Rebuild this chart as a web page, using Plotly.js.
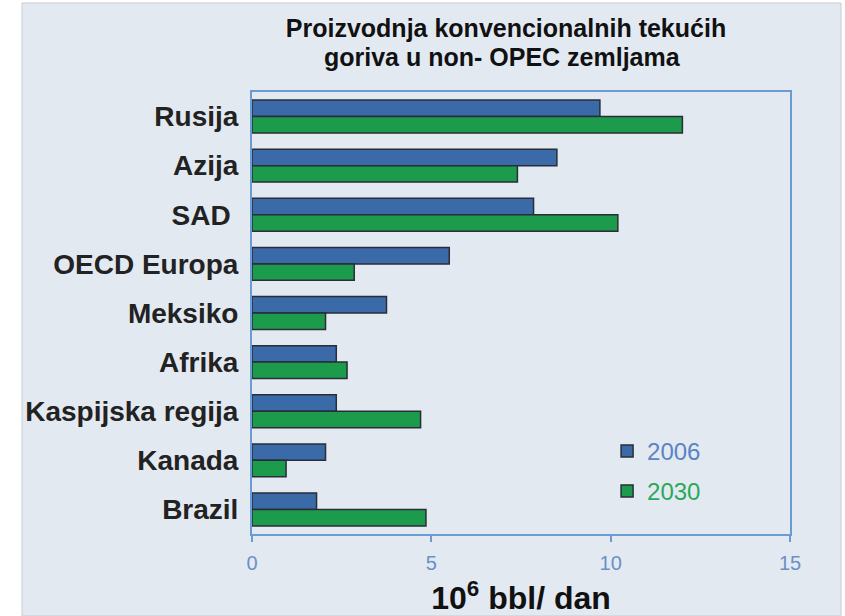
<!DOCTYPE html>
<html>
<head>
<meta charset="utf-8">
<script src="https://cdn.plot.ly/plotly-3.0.1.min.js"></script>
<style>
html, body { margin: 0; padding: 0; background: #ffffff; }
#chart { width: 845px; height: 616px; }
</style>
</head>
<body>
<div id="chart"></div>
<script>
const categories = ['Rusija', 'Azija', 'SAD', 'OECD Europa', 'Meksiko', 'Afrika', 'Kaspijska regija', 'Kanada', 'Brazil'];
const categoryLabels = ['Rusija', 'Azija', 'SAD\u00a0', 'OECD Europa', 'Meksiko', 'Afrika', 'Kaspijska regija', 'Kanada', 'Brazil'];
const values2006 = [9.7, 8.5, 7.85, 5.5, 3.75, 2.35, 2.35, 2.05, 1.8];
const values2030 = [12.0, 7.4, 10.2, 2.85, 2.05, 2.65, 4.7, 0.95, 4.85];
const seriesNames = ['2006', '2030'];
const xTicks = [0, 5, 10, 15];
const titleLines = ['Proizvodnja konvencionalnih tekućih', 'goriva u non- OPEC zemljama'];

const bgColor = '#e3e9f1';
const frameColor = '#6b9bd3';
const blue = '#3b6aa8';
const green = '#1c9b4c';
const outline = '#2a2d38';

const traces = [
  {
    type: 'bar', orientation: 'h', y: categories, x: values2006,
    name: '<span style="color:#5a84c4">' + seriesNames[0] + '</span>',
    legendgroup: 'a',
    marker: { color: blue, line: { color: outline, width: 1.5 } }
  },
  {
    type: 'bar', orientation: 'h', y: categories, x: values2030,
    name: '<span style="color:#2aa85a">' + seriesNames[1] + '</span>',
    legendgroup: 'b',
    marker: { color: green, line: { color: outline, width: 1.5 } }
  }
];

const layout = {
  width: 845, height: 616,
  margin: { l: 252, r: 55, t: 92, b: 82 },
  paper_bgcolor: '#ffffff',
  plot_bgcolor: bgColor,
  barmode: 'group',
  bargap: 0.33,
  bargroupgap: 0,
  font: { family: 'Liberation Sans, Arial, sans-serif', color: '#1a1a1a' },
  title: {
    text: '<b>' + titleLines[0] + '</b>',
    font: { size: 25, color: '#111111', family: 'Liberation Sans, Arial, sans-serif' },
    x: 0.5988, xanchor: 'center', xref: 'container',
    y: 0.954, yanchor: 'middle', yref: 'container'
  },
  annotations: [
    {
      text: '<b>' + titleLines[1] + '</b>',
      xref: 'paper', yref: 'paper', x: 0.4647, y: 1.0792,
      xanchor: 'center', yanchor: 'middle', showarrow: false,
      font: { size: 25, color: '#111111', family: 'Liberation Sans, Arial, sans-serif' }
    }
  ],
  xaxis: {
    range: [0, 15],
    tickvals: xTicks,
    ticktext: xTicks.map(String),
    ticks: 'outside', ticklen: 6, tickwidth: 2, tickcolor: frameColor,
    tickfont: { size: 20, color: '#6a90c8' },
    ticklabelstandoff: 4,
    showgrid: false, zeroline: false,
    showline: true, mirror: true, linecolor: frameColor, linewidth: 2,
    title: { text: '<b>10<sup>6</sup> bbl/ dan</b>', font: { size: 32, color: '#111111' }, standoff: 14 },
    fixedrange: true
  },
  yaxis: {
    autorange: 'reversed',
    tickvals: categories,
    ticktext: categoryLabels.map(function (s) { return '<b>' + s + '</b>'; }),
    tickfont: { size: 28, color: '#222222' },
    ticks: '', ticklabelstandoff: 6,
    showgrid: false, zeroline: false,
    showline: true, mirror: true, linecolor: frameColor, linewidth: 2,
    fixedrange: true
  },
  legend: {
    x: 0.66, y: 0.238, xanchor: 'left', yanchor: 'top',
    bgcolor: 'rgba(0,0,0,0)',
    font: { size: 24 },
    traceorder: 'grouped', tracegroupgap: 6
  },
  shapes: [
    {
      type: 'rect', xref: 'paper', yref: 'paper', layer: 'below',
      x0: -0.4275, x1: 1.0948, y0: -0.1855, y1: 1.2014,
      fillcolor: bgColor, line: { color: '#c8ccd2', width: 1 }
    }
  ],
  showlegend: true
};

Plotly.newPlot('chart', traces, layout, { displayModeBar: false, staticPlot: true });
</script>
</body>
</html>
